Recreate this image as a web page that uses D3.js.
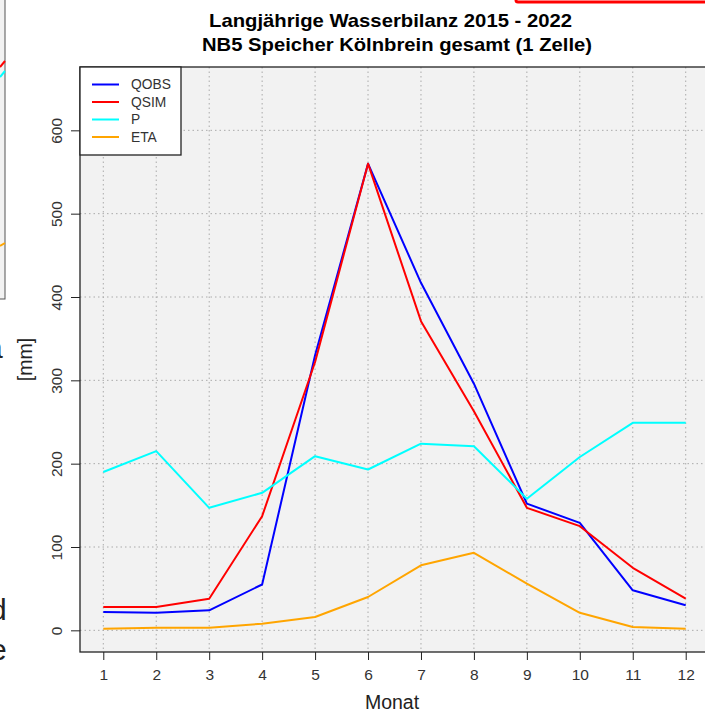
<!DOCTYPE html>
<html>
<head>
<meta charset="utf-8">
<script src="https://cdn.jsdelivr.net/npm/d3@7"></script>
<style>
  body { margin: 0; background: #fff; }
  svg { display: block; font-family: "Liberation Sans", Arial, sans-serif; }
</style>
</head>
<body>
<div id="chart"></div>
<script>
// monthly values (mm)
var months = [1, 2, 3, 4, 5, 6, 7, 8, 9, 10, 11, 12];
var qobs = [22, 21, 24, 55, 330, 560, 417, 296, 152, 129, 48, 30];
var qsim = [28, 28, 38, 137, 322, 560, 371, 263, 147, 125, 75, 38];
var precip = [190, 215, 147, 165, 209, 193, 224, 221, 158, 208, 249, 249];
var eta = [2, 3, 3, 8, 16, 40, 78, 93, 56, 21, 4, 2];
var yTicks = [0, 100, 200, 300, 400, 500, 600];
var seriesNames = ["QOBS", "QSIM", "P", "ETA"];
var seriesColors = ["#0000ff", "#ff0000", "#00ffff", "#ffa500"];
var titleLines = ["Langjährige Wasserbilanz 2015 - 2022", "NB5 Speicher Kölnbrein gesamt (1 Zelle)"];

var W = 705, H = 713;
// plot panel box (right edge runs off the picture)
var margin = { top: 67, left: 80, bottom: 652, right: 709 };

var svg = d3.select("#chart")
    .append("svg")
    .attr("width", W)
    .attr("height", H);

// scales: R style 4% padding on x, ylim 0..650
var x = d3.scaleLinear()
    .domain([0.56, 12.44])
    .range([margin.left, margin.right]);
var y = d3.scaleLinear()
    .domain([-26, 676])
    .range([margin.bottom, margin.top]);

// leftover sliver of the neighbouring chart on the left edge
svg.append("rect")
    .attr("x", -2).attr("y", -2)
    .attr("width", 7).attr("height", 301)
    .attr("fill", "#f2f2f2")
    .attr("stroke", "#555").attr("stroke-width", 1);
svg.append("line").attr("x1", 0).attr("x2", 5).attr("y1", 67).attr("y2", 61)
    .attr("stroke", "#ff0000").attr("stroke-width", 2);
svg.append("line").attr("x1", 0).attr("x2", 5).attr("y1", 77).attr("y2", 71)
    .attr("stroke", "#00ffff").attr("stroke-width", 2);
svg.append("line").attr("x1", 0).attr("x2", 5).attr("y1", 246).attr("y2", 243)
    .attr("stroke", "#ffa500").attr("stroke-width", 2);
svg.append("text").attr("x", -14).attr("y", 358).attr("font-size", 30).attr("fill", "#222").text("a");
svg.append("text").attr("x", -10).attr("y", 620).attr("font-size", 30).attr("fill", "#222").text("d");
svg.append("text").attr("x", -10).attr("y", 660).attr("font-size", 30).attr("fill", "#222").text("e");

// red frame edge at the top right
svg.append("rect")
    .attr("x", 516).attr("y", -10)
    .attr("width", 200).attr("height", 12)
    .attr("fill", "none")
    .attr("stroke", "#ff0000").attr("stroke-width", 3)
    .attr("rx", 2);

// panel background
svg.append("rect")
    .attr("x", margin.left).attr("y", margin.top)
    .attr("width", margin.right - margin.left)
    .attr("height", margin.bottom - margin.top)
    .attr("fill", "#f2f2f2");

// grid
svg.append("g")
    .selectAll("line")
    .data(months)
    .join("line")
    .attr("x1", d => x(d)).attr("x2", d => x(d))
    .attr("y1", margin.top).attr("y2", margin.bottom)
    .attr("stroke", "#aaaaaa").attr("stroke-dasharray", "1.5,3");
svg.append("g")
    .selectAll("line")
    .data(yTicks)
    .join("line")
    .attr("x1", margin.left).attr("x2", margin.right)
    .attr("y1", d => y(d)).attr("y2", d => y(d))
    .attr("stroke", "#aaaaaa").attr("stroke-dasharray", "1.5,3");

// series lines
var allSeries = [qobs, qsim, precip, eta];
var line = d3.line()
    .x(function (d, i) { return x(months[i]); })
    .y(function (d) { return y(d); });

allSeries.forEach(function (vals, k) {
    svg.append("path")
        .datum(vals)
        .attr("fill", "none")
        .attr("stroke", seriesColors[k])
        .attr("stroke-width", 2)
        .attr("stroke-linejoin", "round")
        .attr("d", line);
});

// box around the panel
svg.append("rect")
    .attr("x", margin.left).attr("y", margin.top)
    .attr("width", margin.right - margin.left)
    .attr("height", margin.bottom - margin.top)
    .attr("fill", "none")
    .attr("stroke", "#222").attr("stroke-width", 1.3);

// axes
var xAxis = svg.append("g")
    .attr("transform", "translate(0," + margin.bottom + ")")
    .call(d3.axisBottom(x).tickValues(months).tickSize(8).tickPadding(0).tickFormat(d3.format("d")));
xAxis.select(".domain").remove();
xAxis.selectAll(".tick line").attr("stroke", "#222");
xAxis.selectAll("text")
    .attr("font-size", 15.5).attr("fill", "#333")
    .attr("font-family", "Liberation Sans, Arial, sans-serif")
    .attr("dy", null).attr("y", 28);

var yAxis = svg.append("g")
    .attr("transform", "translate(" + margin.left + ",0)")
    .call(d3.axisLeft(y).tickValues(yTicks).tickSize(9).tickPadding(0));
yAxis.select(".domain").remove();
yAxis.selectAll(".tick line").attr("stroke", "#222");
yAxis.selectAll("text")
    .attr("font-size", 15.5).attr("fill", "#333")
    .attr("font-family", "Liberation Sans, Arial, sans-serif")
    .attr("x", null).attr("dy", null)
    .attr("text-anchor", "middle")
    .attr("transform", "translate(-18,0) rotate(-90)");

// axis titles
svg.append("text")
    .attr("x", 392).attr("y", 709)
    .attr("text-anchor", "middle")
    .attr("font-size", 19.5).attr("fill", "#222")
    .text("Monat");
svg.append("text")
    .attr("transform", "translate(32," + y(325) + ") rotate(-90)")
    .attr("text-anchor", "middle")
    .attr("font-size", 19.5).attr("fill", "#222")
    .text("[mm]");

// title
var titleX = [390.5, 397], titleW = [363, 390];
svg.selectAll(".title")
    .data(titleLines)
    .join("text")
    .attr("class", "title")
    .attr("x", (d, i) => titleX[i])
    .attr("y", (d, i) => 26.5 + i * 24.2)
    .attr("text-anchor", "middle")
    .attr("font-size", 19).attr("font-weight", "bold").attr("fill", "#000")
    .attr("textLength", (d, i) => titleW[i])
    .attr("lengthAdjust", "spacingAndGlyphs")
    .text(d => d);

// legend
var legend = svg.append("g");
legend.append("rect")
    .attr("x", margin.left).attr("y", margin.top)
    .attr("width", 101).attr("height", 88)
    .attr("fill", "#fff").attr("stroke", "#222").attr("stroke-width", 1.3);
var items = legend.selectAll(".item")
    .data(seriesNames)
    .join("g")
    .attr("class", "item")
    .attr("transform", (d, i) => "translate(0," + (margin.top + 17.5 + i * 17.5) + ")");
items.append("line")
    .attr("x1", 92).attr("x2", 119)
    .attr("stroke", (d, i) => seriesColors[i]).attr("stroke-width", 2);
items.append("text")
    .attr("x", 131).attr("dy", "0.35em")
    .attr("font-size", 13.8).attr("fill", "#333")
    .text(d => d);
</script>
</body>
</html>
